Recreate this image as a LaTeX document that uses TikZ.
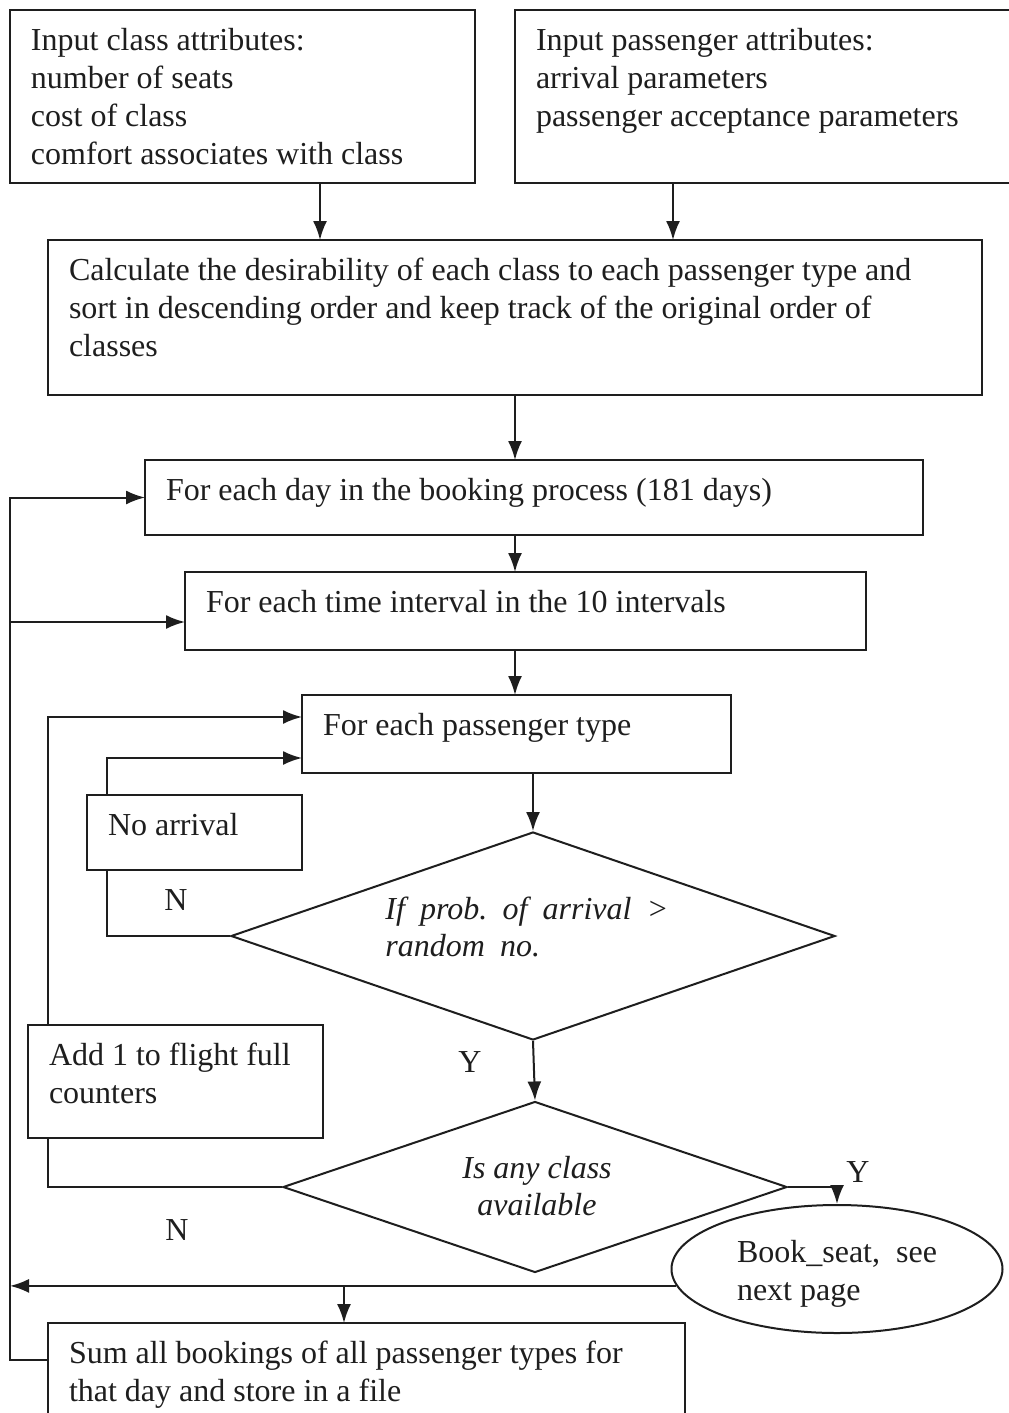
\documentclass[tikz,border=0pt]{standalone}
\usepackage{fontspec}
\setmainfont{Liberation Serif}
\newfontface\wideital{Liberation Serif Italic}[WordSpace=1.9]
\usetikzlibrary{arrows.meta,shapes.geometric}
\definecolor{ink}{HTML}{1E1E1E}
\tikzset{
  line/.style={line width=1pt, draw=ink},
  arr/.style={line, -{Latex[length=9.5pt,width=7pt]}},
  box/.style={draw=ink, line width=1pt, anchor=north west, inner sep=0pt, outer sep=0pt,
              font=\fontsize{16}{19}\selectfont},
  lbl/.style={inner sep=0pt, text=ink, font=\fontsize{16}{19}\selectfont},
  itl/.style={lbl, font=\fontsize{16}{18.5}\selectfont\itshape},
}
\newcommand\bxtext[3]{\parbox[c][\dimexpr#2pt/2\relax][t]{\dimexpr#1pt/2\relax}{\raggedright\leftskip=10.5pt\color{ink}\rule{0pt}{20.3pt}#3}}
\begin{document}
\begin{tikzpicture}[x=0.5pt,y=-0.5pt]
\fill[white] (0,0) rectangle (1008,1413);
\useasboundingbox (0,0) rectangle (1008,1413);
% helper coordinates
\coordinate (cx10) at (10,0);
\coordinate (cx48) at (48,0);
\coordinate (cx107) at (107,0);
\coordinate (cx320) at (320,0);
\coordinate (cx344) at (344,0);
\coordinate (cx515) at (515,0);
\coordinate (cx673) at (673,0);
\coordinate (cy622) at (0,622);
\coordinate (cy717) at (0,717);
\coordinate (cy758) at (0,758);
\coordinate (cy1360) at (0,1360);
% boxes
\node[box] (b1) at (10,10) {\bxtext{465}{173}{Input class attributes:\\number of seats\\cost of class\\comfort associates with class}};
\node[box] (b2) at (515,10) {\bxtext{500}{173}{Input passenger attributes:\\arrival parameters\\passenger acceptance parameters}};
\node[box] (b3) at (48,240) {\bxtext{934}{155}{Calculate the desirability of each class to each passenger type and\\sort in descending order and keep track of the original order of\\classes}};
\node[box] (b4) at (145,460) {\bxtext{778}{75}{For each day in the booking process (181 days)}};
\node[box] (b5) at (185,572) {\bxtext{681}{78}{For each time interval in the 10 intervals}};
\node[box] (b6) at (302,695) {\bxtext{429}{78}{For each passenger type}};
\node[box] (na) at (87,795) {\bxtext{215}{75}{No arrival}};
\node[box] (add) at (28,1025) {\bxtext{295}{113}{Add 1 to flight full\\counters}};
\node[box] (sum) at (48,1323) {\bxtext{637}{100}{Sum all bookings of all passenger types for\\that day and store in a file}};
% decisions
\node[draw=ink, line width=1pt, diamond, inner sep=0pt, minimum width=302pt, minimum height=104pt] (d1) at (533,936) {};
\node[draw=ink, line width=1pt, diamond, inner sep=0pt, minimum width=252pt, minimum height=85.5pt] (d2) at (535,1187) {};
\node[lbl, font=\fontsize{16}{18.5}\selectfont\wideital, anchor=west, align=left] (t1) at (385,927) {If prob.\ of arrival >\\random no.};
\node[itl, align=center] (t2) at (537,1186) {Is any class\\available};
\node[draw=ink, line width=1pt, ellipse, inner sep=0pt, minimum width=165.5pt, minimum height=64pt,
      lbl, align=left] (el) at (837,1269) {\rule{0pt}{16pt}Book\_seat,\ \ see\\next page};
% labels
\node[lbl] (n1) at (176,900) {N};
\node[lbl] (y1) at (470,1062) {Y};
\node[lbl] (n2) at (177,1230) {N};
\node[lbl] (y2) at (858,1172) {Y};
% connectors
\draw[arr] (b1.south -| cx320) -- (b3.north -| cx320);
\draw[arr] (b2.south -| cx673) -- (b3.north -| cx673);
\draw[arr] (b3.south -| cx515) -- (b4.north -| cx515);
\draw[arr] (b4.south -| cx515) -- (b5.north -| cx515);
\draw[arr] (b5.south -| cx515) -- (b6.north -| cx515);
\draw[arr] (b6.south -| d1.north) -- (d1.north);
\draw[arr] (d1.south) -- (d2.north);
\draw[line] (d1.west) -| (na.south -| cx107);
\draw[arr] (na.north -| cx107) |- (b6.west |- cy758);
\draw[line] (d2.west) -| (add.south -| cx48);
\draw[arr] (add.north -| cx48) |- (b6.west |- cy717);
\draw[arr] (d2.east) -| (el.north);
\draw[arr] (el.186) -- (el.186 -| cx10);
\draw[arr] (el.186 -| cx344) -- (sum.north -| cx344);
\draw[arr] (sum.west |- cy1360) -| (cx10 |- b4.west) -- (b4.west);
\draw[arr] (cx10 |- cy622) -- (b5.west |- cy622);
\end{tikzpicture}
\end{document}
